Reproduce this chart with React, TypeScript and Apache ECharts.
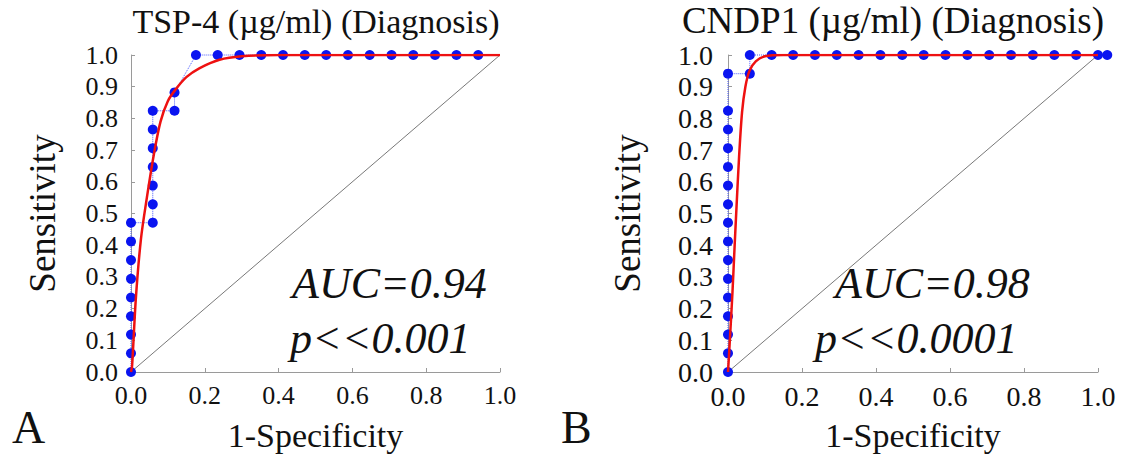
import React, { useEffect, useRef } from "react";
import * as echarts from "echarts";

// Panel A: TSP-4 empirical ROC points (1-Specificity, Sensitivity)
const tspFpr = [0, 0, 0, 0, 0, 0, 0, 0, 0, 0.059, 0.059, 0.059, 0.059, 0.059, 0.059, 0.059, 0.118, 0.118, 0.176, 0.235, 0.294, 0.353, 0.412, 0.471, 0.529, 0.588, 0.647, 0.706, 0.765, 0.824, 0.882, 0.941];
const tspTpr = [0, 0.059, 0.118, 0.176, 0.235, 0.294, 0.353, 0.412, 0.471, 0.471, 0.529, 0.588, 0.647, 0.706, 0.765, 0.824, 0.824, 0.882, 1, 1, 1, 1, 1, 1, 1, 1, 1, 1, 1, 1, 1, 1];
// Panel A: fitted curve
const tspFitX = [0, 0.003, 0.013, 0.027, 0.043, 0.0625, 0.08, 0.1, 0.12, 0.15, 0.185, 0.24, 0.3, 0.4, 0.6, 1.0];
const tspFitY = [0, 0.02, 0.23, 0.42, 0.55, 0.69, 0.79, 0.855, 0.89, 0.93, 0.958, 0.985, 0.996, 1, 1, 1];

// Panel B: CNDP1 empirical ROC points
const cndpFpr = [0, 0, 0, 0, 0, 0, 0, 0, 0, 0, 0, 0, 0, 0, 0, 0, 0.059, 0.059, 0.118, 0.176, 0.235, 0.294, 0.353, 0.412, 0.471, 0.529, 0.588, 0.647, 0.706, 0.765, 0.824, 0.882, 0.941, 1.0, 1.025];
const cndpTpr = [0, 0.059, 0.118, 0.176, 0.235, 0.294, 0.353, 0.412, 0.471, 0.529, 0.588, 0.647, 0.706, 0.765, 0.824, 0.941, 0.941, 1, 1, 1, 1, 1, 1, 1, 1, 1, 1, 1, 1, 1, 1, 1, 1, 1, 1];
// Panel B: fitted curve
const cndpFitX = [0, 0.005, 0.012, 0.018, 0.023, 0.03, 0.038, 0.047, 0.058, 0.075, 0.1, 0.15, 0.4, 1.0];
const cndpFitY = [0, 0.1, 0.25, 0.4, 0.52, 0.68, 0.82, 0.9, 0.95, 0.98, 0.996, 1, 1, 1];

const diagX = [0, 1];
const diagY = [0, 1];

const titles = ["TSP-4 (\u00b5g/ml) (Diagnosis)", "CNDP1 (\u00b5g/ml) (Diagnosis)"];
const aucTexts = ["AUC=0.94", "AUC=0.98"];
const pTexts = ["p<<0.001", "p<<0.0001"];
const panelLetters = ["A", "B"];

const zip = (xs: number[], ys: number[]) => xs.map((x, i) => [x, ys[i]]);

const SERIF = "Times New Roman, Liberation Serif, serif";

export default function App() {
  const ref = useRef<HTMLDivElement>(null);
  useEffect(() => {
    document.body.style.margin = "0";
    const chart = echarts.init(ref.current!, null, { renderer: "svg" });
    const grids = [
      { left: 131, top: 55, width: 369, height: 319 },
      { left: 728, top: 55, width: 370, height: 319 },
    ];
    const labelSize = [26, 28];
    const mkAxis = (i: number) => ({
      type: "value" as const,
      gridIndex: i,
      min: 0,
      max: 1,
      axisLine: { show: true, lineStyle: { color: "#9a9a9a", width: 1 } },
      axisTick: { show: true, inside: true, length: 4, lineStyle: { color: "#9a9a9a" } },
      splitLine: { show: false },
      axisLabel: {
        color: "#111",
        fontFamily: SERIF,
        fontSize: labelSize[i],
        formatter: (v: number) => v.toFixed(1),
      },
      nameTextStyle: { color: "#111", fontFamily: SERIF, fontSize: 34 },
    });
    const xAxes = [0, 1].map((i) => {
      const a = mkAxis(i);
      return {
        ...a,
        interval: 0.2,
        axisLabel: { ...a.axisLabel, margin: 10 },
        name: "1-Specificity",
        nameLocation: "middle",
        nameGap: 46,
      };
    });
    const yAxes = [0, 1].map((i) => {
      const a = mkAxis(i);
      return {
        ...a,
        interval: 0.1,
        axisLabel: { ...a.axisLabel, margin: i === 0 ? 13 : 15 },
        name: "Sensitivity",
        nameLocation: "middle",
        nameRotate: 90,
        nameGap: i === 0 ? 70 : 82,
        nameTextStyle: { ...a.nameTextStyle, fontSize: 37 },
      };
    });

    const panelSeries = (i: number, fx: number[], fy: number[], sx: number[], sy: number[]) => [
      {
        type: "line",
        xAxisIndex: i,
        yAxisIndex: i,
        data: zip(diagX, diagY),
        symbol: "none",
        lineStyle: { color: "#555", width: 0.8 },
        z: 1,
      },
      {
        type: "line",
        xAxisIndex: i,
        yAxisIndex: i,
        data: zip(sx, sy),
        symbol: "circle",
        symbolSize: 10,
        clip: false,
        itemStyle: { color: "#0a14f0" },
        lineStyle: { color: "#4a5aff", width: 1, type: "dotted" },
        z: 2,
      },
      {
        type: "line",
        xAxisIndex: i,
        yAxisIndex: i,
        data: zip(fx, fy),
        symbol: "none",
        smooth: 0.3,
        lineStyle: { color: "#ee1111", width: 2.5 },
        z: 3,
      },
    ];

    const txt = (text: string, x: number, y: number, size: number, italic = false, align = "left") => ({
      type: "text",
      x,
      y,
      style: {
        text,
        font: `${italic ? "italic " : ""}${size}px ${SERIF}`,
        fill: "#111",
        textAlign: align,
        textVerticalAlign: "middle",
      },
    });

    chart.setOption({
      animation: false,
      backgroundColor: "#fff",
      grid: grids,
      xAxis: xAxes,
      yAxis: yAxes,
      series: [
        ...panelSeries(0, tspFitX, tspFitY, tspFpr, tspTpr),
        ...panelSeries(1, cndpFitX, cndpFitY, cndpFpr, cndpTpr),
      ],
      graphic: [
        txt(titles[0], 316, 21, 34, false, "center"),
        txt(titles[1], 893, 20, 37, false, "center"),
        txt(aucTexts[0], 292, 283, 44, true),
        txt(pTexts[0], 290, 338, 44, true),
        txt(aucTexts[1], 835, 283, 44, true),
        txt(pTexts[1], 815, 338, 44, true),
        txt(panelLetters[0], 12, 427, 46),
        txt(panelLetters[1], 561, 427, 46),
      ],
    });
    return () => chart.dispose();
  }, []);
  return <div ref={ref} style={{ width: 1139, height: 457 }} />;
}
